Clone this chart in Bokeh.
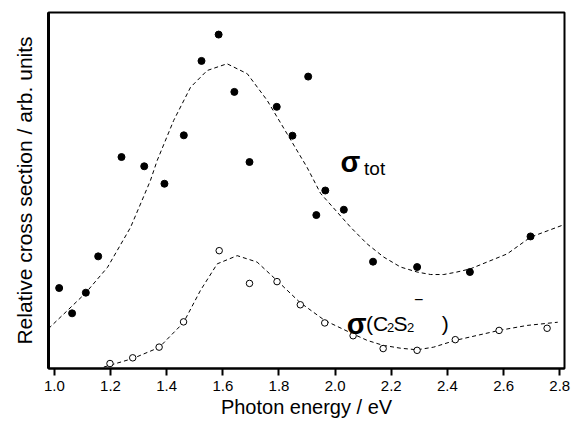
from bokeh.plotting import figure
from bokeh.models import FixedTicker, Label
from bokeh.embed import file_html
from bokeh.resources import INLINE

# Photon energy (eV) and relative cross sections (arb. units, 0-100 scale)
tot_x = [1.017, 1.063, 1.112, 1.156, 1.239, 1.320, 1.392, 1.461, 1.524, 1.585, 1.641,
         1.695, 1.792, 1.848, 1.904, 1.933, 1.965, 2.031, 2.135, 2.292, 2.480, 2.696]
tot_y = [22.6, 15.5, 21.3, 31.5, 59.4, 56.8, 51.9, 65.5, 86.4, 93.8, 77.7,
         58.0, 73.5, 65.4, 82.0, 43.1, 50.0, 44.6, 30.0, 28.5, 27.1, 37.1]

ion_x = [1.198, 1.279, 1.373, 1.460, 1.587, 1.695, 1.793, 1.876, 1.963, 2.064,
         2.171, 2.292, 2.428, 2.584, 2.755]
ion_y = [1.4, 3.0, 6.0, 13.1, 33.1, 23.9, 24.4, 17.9, 12.8, 9.2,
         5.6, 5.1, 8.1, 10.7, 11.3]

# fitted curves (dashed)
tot_fit_x = [0.979, 1.110, 1.189, 1.271, 1.312, 1.342, 1.366, 1.425, 1.485, 1.544, 1.615,
             1.687, 1.758, 1.829, 1.900, 1.948, 2.055, 2.114, 2.173, 2.233, 2.292, 2.340,
             2.387, 2.434, 2.482, 2.541, 2.613, 2.696, 2.815]
tot_fit_y = [11.2, 21.1, 28.4, 39.6, 47.2, 52.8, 58.4, 69.7, 79.0, 83.7, 85.6,
             82.8, 75.3, 65.9, 56.5, 49.2, 39.7, 35.0, 31.3, 28.5, 27.1, 26.4,
             26.4, 27.1, 28.0, 29.9, 32.2, 36.9, 40.4]

ion_fit_x = [1.176, 1.279, 1.373, 1.460, 1.520, 1.580, 1.651, 1.722, 1.793, 1.874,
             1.963, 2.064, 2.114, 2.171, 2.233, 2.292, 2.351, 2.428, 2.506, 2.584,
             2.684, 2.793]
ion_fit_y = [0.4, 2.8, 5.9, 12.9, 21.9, 29.4, 31.7, 29.9, 24.7, 18.6,
             13.5, 9.7, 7.9, 6.5, 5.7, 5.25, 6.0, 7.9, 9.3, 10.7,
             12.1, 13.0]

x_ticks = [1.0, 1.2, 1.4, 1.6, 1.8, 2.0, 2.2, 2.4, 2.6, 2.8]
x_tick_labels = ["1.0", "1.2", "1.4", "1.6", "1.8", "2.0", "2.2", "2.4", "2.6", "2.8"]

FONT = "Liberation Sans"

p = figure(width=571, height=424, x_range=(0.979, 2.817), y_range=(0, 100),
           output_backend="svg", toolbar_location=None,
           min_border_left=48, min_border_right=7, min_border_top=12, min_border_bottom=56)

p.xgrid.visible = False
p.ygrid.visible = False
p.background_fill_color = "white"
p.border_fill_color = "white"
p.outline_line_color = "black"
p.outline_line_width = 2

# x axis
xa = p.xaxis[0]
xa.ticker = FixedTicker(ticks=x_ticks)
xa.major_label_overrides = {t: l for t, l in zip(x_ticks, x_tick_labels)}
xa.major_tick_out = 7
xa.major_tick_in = 0
xa.minor_tick_out = 0
xa.minor_tick_in = 0
xa.major_tick_line_width = 2
xa.axis_line_width = 2
xa.major_label_text_font = FONT
xa.major_label_text_font_size = "15px"
xa.major_label_text_color = "black"
xa.major_label_standoff = 5
xa.axis_label = "Photon energy / eV"
xa.axis_label_text_font = FONT
xa.axis_label_text_font_size = "20px"
xa.axis_label_text_font_style = "normal"
xa.axis_label_text_color = "black"
xa.axis_label_standoff = 2

# y axis
ya = p.yaxis[0]
ya.ticker = FixedTicker(ticks=[])
ya.major_tick_out = 0
ya.major_tick_in = 0
ya.minor_tick_out = 0
ya.minor_tick_in = 0
ya.major_label_standoff = 0
ya.axis_line_width = 3
ya.axis_label = "Relative cross section / arb. units"
ya.axis_label_text_font = FONT
ya.axis_label_text_font_size = "21px"
ya.axis_label_text_font_style = "normal"
ya.axis_label_text_color = "black"
ya.axis_label_standoff = 13

# fits
p.line(tot_fit_x, tot_fit_y, line_color="black", line_width=1, line_dash="4 3")
p.line(ion_fit_x, ion_fit_y, line_color="black", line_width=1, line_dash="4 3")

# data
p.scatter(tot_x, tot_y, size=7, fill_color="black", line_color="black")
p.scatter(ion_x, ion_y, size=6.5, fill_color="white", line_color="black", line_width=1)

def lab(x, y, text, size, baseline="alphabetic", style="normal"):
    p.add_layout(Label(x=x, y=y, text=text, text_font=FONT, text_font_size=size,
                       text_font_style=style, text_color="black", text_align="left",
                       text_baseline=baseline))

lab(2.019, 57.9, "σ", "29px", style="bold")
lab(2.103, 56.1, "tot", "19px")

lab(2.041, 12.6, "σ", "29px", style="bold")
lab(2.110, 12.6, "(C", "21px")
lab(2.1845, 11.6, "2", "13px")
lab(2.2076, 12.6, "S", "21px")
lab(2.2557, 11.6, "2", "13px")
lab(2.2806, 19.4, "−", "16px", baseline="middle")
lab(2.380, 12.6, ")", "21px")

open("out.html", "w").write(file_html(p, INLINE))
